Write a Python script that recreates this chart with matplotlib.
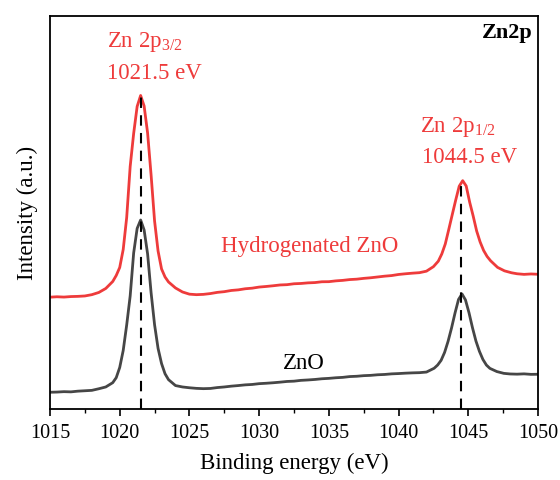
import numpy as np
import matplotlib
matplotlib.use("Agg")
import matplotlib.pyplot as plt
from matplotlib.ticker import MultipleLocator

# Zn 2p XPS spectra (binding energy in eV, intensity in arbitrary units)
h_energy = [
    1015.0, 1015.5, 1016.0, 1016.5, 1017.0, 1017.5, 1018.0, 1018.5, 1019.0, 1019.5,
    1019.75, 1020.0, 1020.25, 1020.5, 1020.75, 1021.0, 1021.25, 1021.5, 1021.75, 1022.0,
    1022.25, 1022.5, 1022.75, 1023.0, 1023.25, 1023.5, 1024.0, 1024.5, 1025.0, 1025.5,
    1026.0, 1026.5, 1027.0, 1027.5, 1028.0, 1028.5, 1029.0, 1029.5, 1030.0, 1030.5,
    1031.0, 1031.5, 1032.0, 1032.5, 1033.0, 1033.5, 1034.0, 1034.5, 1035.0, 1035.5,
    1036.0, 1036.5, 1037.0, 1037.5, 1038.0, 1038.5, 1039.0, 1039.5, 1040.0, 1040.5,
    1041.0, 1041.5, 1042.0, 1042.5, 1042.85, 1043.1, 1043.35, 1043.6, 1043.85, 1044.1,
    1044.35, 1044.6, 1044.85, 1045.1, 1045.35, 1045.6, 1045.85, 1046.1, 1046.35, 1046.6,
    1047.1, 1047.6, 1048.1, 1048.5, 1049.0, 1049.5, 1050.0,
]
h_intensity = [
    111.8, 112.2, 111.9, 112.4, 112.6, 113.0, 114.3, 116.5, 120.5, 127.5,
    133.5, 141.5, 159.5, 191.5, 242.5, 275.5, 302.5, 313.5, 303.0, 276.0,
    234.0, 188.0, 158.0, 140.0, 132.0, 127.0, 121.0, 117.0, 114.8, 114.3,
    114.6, 115.4, 116.6, 117.3, 118.5, 119.1, 120.2, 120.8, 121.9, 122.5,
    123.2, 124.0, 124.3, 125.2, 125.5, 126.1, 126.4, 127.2, 127.3, 128.1,
    128.6, 129.4, 129.8, 130.6, 131.2, 132.0, 132.8, 133.4, 134.5, 135.2,
    135.8, 136.3, 137.8, 142.3, 147.8, 155.0, 165.0, 179.5, 194.3, 209.0,
    222.8, 228.3, 223.0, 206.8, 193.0, 178.0, 167.0, 158.5, 152.5, 148.2,
    141.6, 138.1, 136.2, 135.2, 134.6, 135.0, 134.7,
]

z_energy = [
    1015.0, 1015.5, 1016.0, 1016.5, 1017.0, 1017.5, 1018.0, 1018.5, 1019.0, 1019.5,
    1019.75, 1020.0, 1020.25, 1020.5, 1020.75, 1021.0, 1021.25, 1021.5, 1021.75, 1022.0,
    1022.25, 1022.5, 1022.75, 1023.0, 1023.25, 1023.5, 1024.0, 1024.5, 1025.0, 1025.5,
    1026.0, 1026.5, 1027.0, 1027.5, 1028.0, 1028.5, 1029.0, 1029.5, 1030.0, 1030.5,
    1031.0, 1031.5, 1032.0, 1032.5, 1033.0, 1033.5, 1034.0, 1034.5, 1035.0, 1035.5,
    1036.0, 1036.5, 1037.0, 1037.5, 1038.0, 1038.5, 1039.0, 1039.5, 1040.0, 1040.5,
    1041.0, 1041.5, 1042.0, 1042.55, 1042.8, 1043.05, 1043.3, 1043.55, 1043.8, 1044.05,
    1044.3, 1044.55, 1044.8, 1045.05, 1045.3, 1045.55, 1045.8, 1046.05, 1046.3, 1046.55,
    1047.05, 1047.55, 1048.0, 1048.5, 1049.0, 1049.5, 1050.0,
]
z_intensity = [
    16.7, 16.9, 17.3, 17.1, 17.8, 18.2, 18.6, 20.2, 22.0, 26.3,
    31.3, 41.5, 58.5, 84.0, 113.0, 156.0, 180.5, 189.0, 179.0, 155.0,
    116.3, 84.2, 60.6, 45.4, 35.2, 29.3, 23.4, 22.0, 21.2, 20.6,
    20.3, 20.5, 21.4, 22.0, 22.8, 23.4, 24.1, 24.5, 25.3, 25.7,
    26.2, 26.8, 27.5, 27.8, 28.6, 29.0, 29.5, 30.2, 30.6, 31.2,
    31.6, 32.4, 32.7, 33.3, 33.6, 34.2, 34.5, 35.1, 35.4, 35.8,
    36.1, 36.3, 36.9, 40.7, 43.9, 48.6, 56.5, 67.6, 81.0, 96.0,
    109.5, 115.0, 109.0, 96.3, 81.3, 67.9, 57.6, 49.5, 43.9, 40.6,
    37.4, 35.6, 35.0, 34.8, 35.1, 34.6, 34.7,
]

peak_positions = [1021.5, 1044.5]
x_ticks = [1015, 1020, 1025, 1030, 1035, 1040, 1045, 1050]

RED = "#EE3B3B"
GRAY = "#464646"

plt.rcParams["font.family"] = ["Liberation Serif", "DejaVu Serif"]
plt.rcParams["mathtext.fontset"] = "custom"
plt.rcParams["mathtext.rm"] = "Liberation Serif"
plt.rcParams["mathtext.it"] = "Liberation Serif:italic"

fig = plt.figure(figsize=(5.6, 4.8), dpi=100)
ax = fig.add_axes([0.0893, 0.148, 0.8714, 0.8187])

ax.plot(h_energy, h_intensity, color=RED, lw=2.0, solid_joinstyle="round")
ax.plot(z_energy, z_intensity, color=GRAY, lw=2.0, solid_joinstyle="round")

for pos in peak_positions:
    top = np.interp(pos, h_energy, h_intensity)
    ax.plot([pos, pos], [0, top], color="black", lw=1.5,
            linestyle=(0, (5, 3.5)), zorder=3)

ax.set_xlim(1015, 1050)
ax.set_ylim(0, 393)
ax.set_xticks(x_ticks)
ax.xaxis.set_minor_locator(MultipleLocator(2.5))
ax.set_yticks([])
ax.tick_params(axis="x", which="major", direction="out", length=5, width=1.2,
               labelsize=14.5, pad=6)
ax.tick_params(axis="x", which="minor", direction="out", length=3, width=1.0)
for sp in ax.spines.values():
    sp.set_linewidth(1.3)

ax.set_xlabel("Binding energy (eV)", fontsize=16.5, labelpad=7)
ax.set_ylabel("Intensity (a.u.)", fontsize=16.5, labelpad=9)

ax.text(1019.1, 367, r"Zn 2p$_{3/2}$", color=RED, fontsize=16.5, va="center", ha="left")
ax.text(1019.1, 335, "1021.5 eV", color=RED, fontsize=16.5, va="center", ha="left")
ax.text(1041.55, 282, r"Zn 2p$_{1/2}$", color=RED, fontsize=16.5, va="center", ha="left")
ax.text(1041.7, 251, "1044.5 eV", color=RED, fontsize=16.5, va="center", ha="left")
ax.text(1033.65, 162, "Hydrogenated ZnO", color=RED, fontsize=16.5, va="center", ha="center")
ax.text(1033.2, 45, "ZnO", color="black", fontsize=16.5, va="center", ha="center")
ax.text(1049.65, 376, "Zn2p", color="black", fontsize=16, fontweight="bold",
        va="center", ha="right")

fig.savefig("out.png", dpi=100)
